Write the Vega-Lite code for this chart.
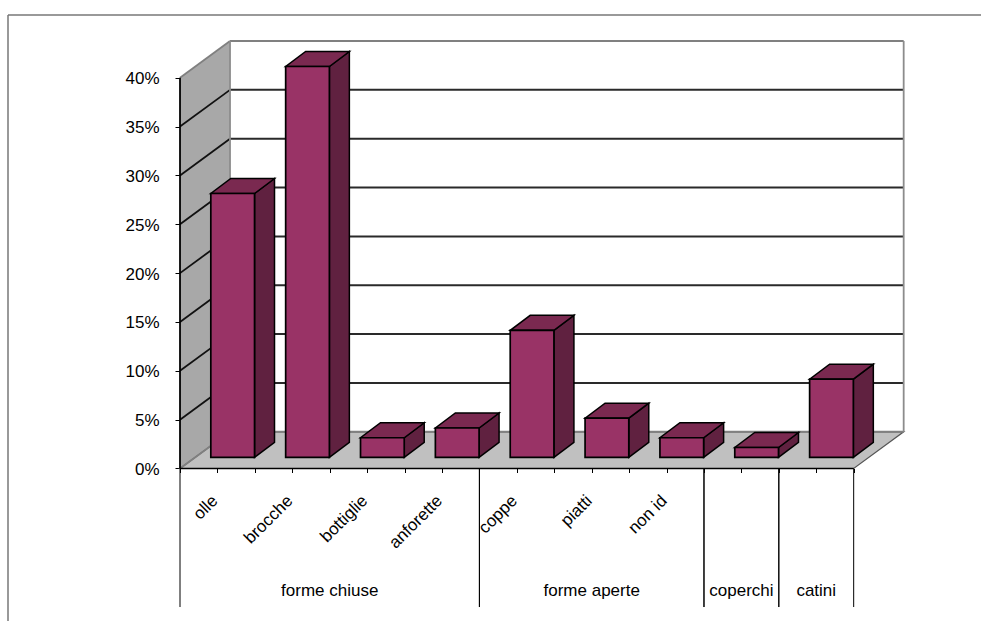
{
  "$schema": "https://vega.github.io/schema/vega-lite/v6.json",
  "width": 973,
  "height": 606,
  "autosize": "none",
  "padding": {"left": 8, "top": 15, "right": 0, "bottom": 0},
  "background": "white",
  "config": {
    "view": {"stroke": null},
    "text": {"font": "Liberation Sans", "fontSize": 17, "color": "#000"},
    "axis": {"labelFont": "Liberation Sans", "labelFontSize": 17, "labelColor": "#000"}
  },
  "params": [
    {"name": "barLeft", "expr": "0.4115"},
    {"name": "barWidth", "expr": "0.584"},
    {"name": "barDepthX", "expr": "0.267"},
    {"name": "barDepthY", "expr": "0.01536"},
    {"name": "barBase", "expr": "0.01147"},
    {"name": "wallX", "expr": "0.668"},
    {"name": "wallY", "expr": "0.03756"}
  ],
  "datasets": {
    "shares": [
      {"tipo": "olle", "gruppo": "forme chiuse", "quota": 0.27},
      {"tipo": "brocche", "gruppo": "forme chiuse", "quota": 0.40},
      {"tipo": "bottiglie", "gruppo": "forme chiuse", "quota": 0.02},
      {"tipo": "anforette", "gruppo": "forme chiuse", "quota": 0.03},
      {"tipo": "coppe", "gruppo": "forme aperte", "quota": 0.13},
      {"tipo": "piatti", "gruppo": "forme aperte", "quota": 0.04},
      {"tipo": "non id", "gruppo": "forme aperte", "quota": 0.02},
      {"tipo": "coperchi", "gruppo": "coperchi", "quota": 0.01},
      {"tipo": "catini", "gruppo": "catini", "quota": 0.08}
    ],
    "levels": [
      {"level": 0}, {"level": 0.05}, {"level": 0.1}, {"level": 0.15}, {"level": 0.2},
      {"level": 0.25}, {"level": 0.3}, {"level": 0.35}, {"level": 0.4}
    ]
  },
  "encoding": {
    "x": {
      "field": "px",
      "type": "quantitative",
      "title": null,
      "scale": {"domain": [-2.298, 10.701], "nice": false, "zero": false},
      "axis": {
        "orient": "bottom",
        "offset": -152.5,
        "values": [0, 0.5, 1, 1.5, 2, 2.5, 3, 3.5, 4, 4.5, 5, 5.5, 6, 6.5, 7, 7.5, 8, 8.5, 9],
        "labels": false,
        "domain": false,
        "grid": false,
        "tickSize": 4,
        "tickColor": "#000"
      }
    },
    "y": {
      "field": "py",
      "type": "quantitative",
      "title": null,
      "stack": false,
      "scale": {"domain": [-0.1561, 0.4642], "nice": false, "zero": false},
      "axis": {
        "orient": "left",
        "offset": -172,
        "values": [0, 0.05, 0.1, 0.15, 0.2, 0.25, 0.3, 0.35, 0.4],
        "format": ".0%",
        "domain": false,
        "grid": false,
        "tickSize": 5,
        "tickColor": "#000",
        "labelPadding": 16,
        "labelOffset": 1
      }
    }
  },
  "layer": [
    {
      "description": "Outer frame of the chart object",
      "data": {"values": [{"edge": "top"}, {"edge": "left"}]},
      "transform": [
        {"calculate": "-2.298", "as": "px"},
        {"calculate": "datum.edge === 'top' ? 10.701 : -2.298", "as": "px2"},
        {"calculate": "0.4642", "as": "py"},
        {"calculate": "datum.edge === 'top' ? 0.4642 : -0.1561", "as": "py2"}
      ],
      "mark": {"type": "rule", "stroke": "#777", "strokeWidth": 1.5},
      "encoding": {"x2": {"field": "px2"}, "y2": {"field": "py2"}}
    },
    {
      "description": "Side wall",
      "data": {"name": "levels"},
      "transform": [
        {"aggregate": [{"op": "max", "field": "level", "as": "top"}]},
        {"calculate": "[0, wallX]", "as": "px"},
        {"calculate": "[0, wallY]", "as": "py"},
        {"calculate": "[datum.top, datum.top + wallY]", "as": "py2"},
        {"flatten": ["px", "py", "py2"]}
      ],
      "mark": {"type": "area", "fill": "#a8a8a8"},
      "encoding": {"y2": {"field": "py2"}}
    },
    {
      "description": "Floor",
      "data": {"name": "levels"},
      "transform": [
        {"aggregate": [{"op": "count", "as": "n"}]},
        {"calculate": "[0, wallX, 9, 9 + wallX]", "as": "px"},
        {"calculate": "[0, 0, 0, wallY]", "as": "py"},
        {"calculate": "[0, wallY, wallY, wallY]", "as": "py2"},
        {"flatten": ["px", "py", "py2"]}
      ],
      "mark": {"type": "area", "fill": "#c0c0c0", "stroke": "#555", "strokeWidth": 1.2},
      "encoding": {"y2": {"field": "py2"}}
    },
    {
      "description": "Gridlines along the side wall",
      "data": {"name": "levels"},
      "transform": [
        {"calculate": "0", "as": "px"},
        {"calculate": "wallX", "as": "px2"},
        {"calculate": "datum.level", "as": "py"},
        {"calculate": "datum.level + wallY", "as": "py2"}
      ],
      "mark": {"type": "rule", "strokeWidth": 1.8},
      "encoding": {
        "x2": {"field": "px2"},
        "y2": {"field": "py2"},
        "stroke": {
          "condition": {"test": "datum.level === 0 || datum.level === 0.4", "value": "#808080"},
          "value": "#111"
        }
      }
    },
    {
      "description": "Gridlines along the back wall",
      "data": {"name": "levels"},
      "transform": [
        {"calculate": "wallX", "as": "px"},
        {"calculate": "9 + wallX", "as": "px2"},
        {"calculate": "datum.level + wallY", "as": "py"}
      ],
      "mark": {"type": "rule", "strokeWidth": 2},
      "encoding": {
        "x2": {"field": "px2"},
        "stroke": {
          "condition": {"test": "datum.level === 0 || datum.level === 0.4", "value": "#808080"},
          "value": "#2a2a2a"
        }
      }
    },
    {
      "description": "Vertical corners of the walls and the value-axis line",
      "data": {"name": "levels"},
      "transform": [
        {"aggregate": [{"op": "max", "field": "level", "as": "top"}]},
        {"calculate": "[0, wallX, 9 + wallX]", "as": "px"},
        {"flatten": ["px"]},
        {"calculate": "datum.px === 0 ? 0 : wallY", "as": "py"},
        {"calculate": "datum.px === 0 ? datum.top : datum.top + wallY", "as": "py2"}
      ],
      "mark": {"type": "rule", "strokeWidth": 1.8},
      "encoding": {
        "y2": {"field": "py2"},
        "stroke": {"condition": {"test": "datum.px === 0", "value": "#000"}, "value": "#8c8c8c"}
      }
    },
    {
      "description": "Front edge of the floor",
      "data": {"name": "shares"},
      "transform": [
        {"aggregate": [{"op": "count", "as": "n"}]},
        {"calculate": "0", "as": "px"},
        {"calculate": "0", "as": "py"}
      ],
      "mark": {"type": "rule", "stroke": "#000", "strokeWidth": 1.5},
      "encoding": {"x2": {"field": "n"}}
    },
    {
      "description": "Right side of each column",
      "data": {"name": "shares"},
      "transform": [
        {"window": [{"op": "row_number", "as": "n"}]},
        {"calculate": "datum.n - 1 + barLeft + barWidth", "as": "a"},
        {"calculate": "[datum.a, datum.a + barDepthX]", "as": "px"},
        {"calculate": "[barBase, barBase + barDepthY]", "as": "py"},
        {"calculate": "[barBase + datum.quota, barBase + datum.quota + barDepthY]", "as": "py2"},
        {"flatten": ["px", "py", "py2"]}
      ],
      "mark": {"type": "area", "fill": "#602140", "stroke": "#000", "strokeWidth": 1.5},
      "encoding": {"y2": {"field": "py2"}, "detail": {"field": "tipo"}}
    },
    {
      "description": "Top of each column",
      "data": {"name": "shares"},
      "transform": [
        {"window": [{"op": "row_number", "as": "n"}]},
        {"calculate": "datum.n - 1 + barLeft", "as": "a"},
        {"calculate": "barBase + datum.quota", "as": "t"},
        {"calculate": "[datum.a, datum.a + barDepthX, datum.a + barWidth, datum.a + barWidth + barDepthX]", "as": "px"},
        {"calculate": "[datum.t, datum.t, datum.t, datum.t + barDepthY]", "as": "py"},
        {"calculate": "[datum.t, datum.t + barDepthY, datum.t + barDepthY, datum.t + barDepthY]", "as": "py2"},
        {"flatten": ["px", "py", "py2"]}
      ],
      "mark": {"type": "area", "fill": "#7a2950", "stroke": "#000", "strokeWidth": 1.5},
      "encoding": {"y2": {"field": "py2"}, "detail": {"field": "tipo"}}
    },
    {
      "description": "Front of each column",
      "data": {"name": "shares"},
      "transform": [
        {"window": [{"op": "row_number", "as": "n"}]},
        {"calculate": "datum.n - 1 + barLeft", "as": "px"},
        {"calculate": "datum.px + barWidth", "as": "px2"},
        {"calculate": "barBase", "as": "py"},
        {"calculate": "barBase + datum.quota", "as": "py2"}
      ],
      "mark": {"type": "rect", "fill": "#993366", "stroke": "#000", "strokeWidth": 1.7},
      "encoding": {"x2": {"field": "px2"}, "y2": {"field": "py2"}}
    },
    {
      "description": "Category labels",
      "data": {"name": "shares"},
      "transform": [
        {"window": [{"op": "row_number", "as": "n"}]},
        {"filter": "datum.tipo !== 'coperchi' && datum.tipo !== 'catini'"},
        {"calculate": "datum.n - 0.53", "as": "px"},
        {"calculate": "-0.0305", "as": "py"}
      ],
      "mark": {"type": "text", "angle": 315, "align": "right", "baseline": "middle"},
      "encoding": {"text": {"field": "tipo"}}
    },
    {
      "description": "Group separators below the floor",
      "data": {"name": "shares"},
      "transform": [
        {"window": [{"op": "row_number", "as": "n"}]},
        {"aggregate": [{"op": "min", "field": "n", "as": "first"}, {"op": "max", "field": "n", "as": "last"}], "groupby": ["gruppo"]},
        {"calculate": "[datum.first - 1, datum.last]", "as": "px"},
        {"flatten": ["px"]},
        {"calculate": "0", "as": "py"},
        {"calculate": "-0.1418", "as": "py2"}
      ],
      "mark": {"type": "rule", "stroke": "#000", "strokeWidth": 1},
      "encoding": {"y2": {"field": "py2"}}
    },
    {
      "description": "Group labels",
      "data": {"name": "shares"},
      "transform": [
        {"window": [{"op": "row_number", "as": "n"}]},
        {"aggregate": [{"op": "min", "field": "n", "as": "first"}, {"op": "max", "field": "n", "as": "last"}], "groupby": ["gruppo"]},
        {"calculate": "(datum.first - 1 + datum.last) / 2", "as": "px"},
        {"calculate": "-0.1252", "as": "py"}
      ],
      "mark": {"type": "text", "align": "center", "baseline": "middle"},
      "encoding": {"text": {"field": "gruppo"}}
    }
  ]
}
